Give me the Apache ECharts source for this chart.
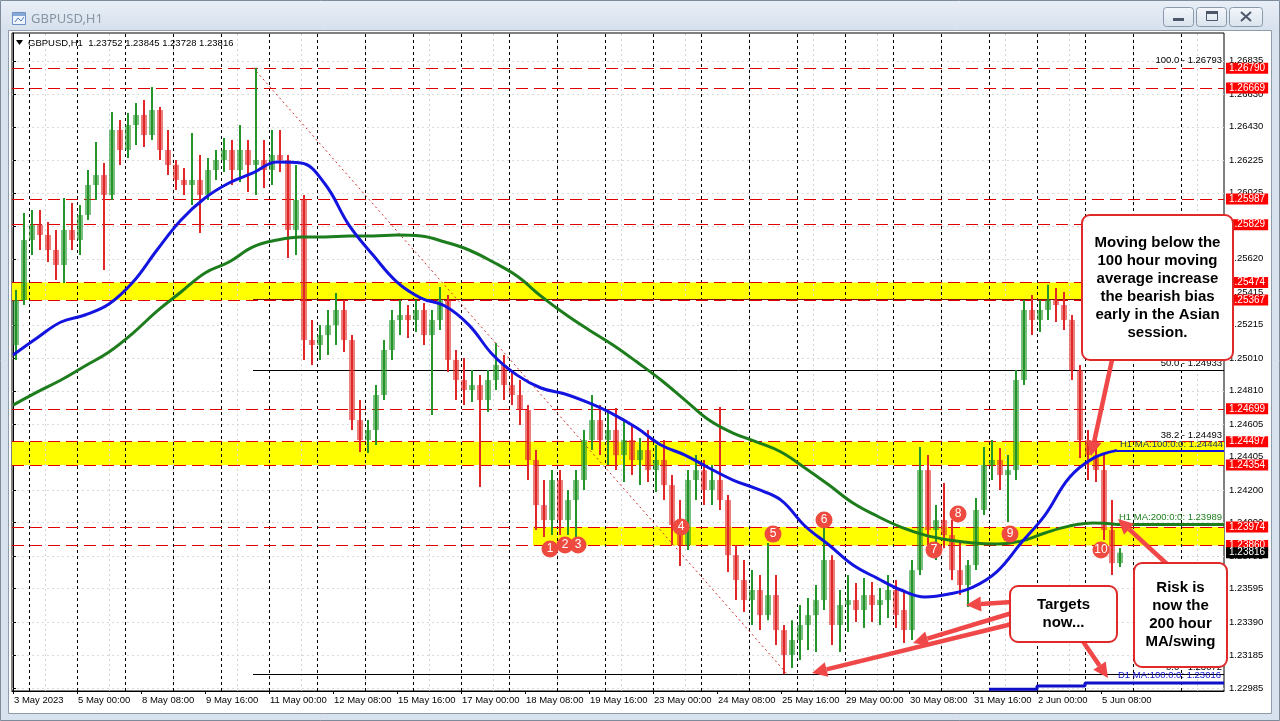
<!DOCTYPE html>
<html><head><meta charset="utf-8">
<script src="https://cdn.jsdelivr.net/npm/echarts@6/dist/echarts.min.js"></script>
<style>html,body{margin:0;padding:0;background:#d8e2ee;overflow:hidden}#c{width:1280px;height:721px}</style>
</head><body><div id="c"></div>
<script>
// ---------- DATA ----------
// 4-hour OHLC bars [open, close, low, high]; bar i covers hours 4i..4i+3 counted from 3 May 16:00
const bars = [
[1.25091,1.25367,1.24999,1.25428],[1.25367,1.25735,1.25336,1.25901],[1.25735,1.25827,1.25643,1.25919],[1.25827,1.25766,1.25674,1.25919],
[1.25766,1.25674,1.25600,1.25846],[1.25674,1.25582,1.25490,1.25797],[1.25582,1.25797,1.25471,1.25993],[1.25797,1.25735,1.25674,1.25962],
[1.25735,1.25889,1.25643,1.25950],[1.25889,1.26073,1.25858,1.26165],[1.26073,1.26134,1.25981,1.26337],[1.26134,1.26012,1.25551,1.26208],
[1.26012,1.26411,1.25981,1.26521],[1.26411,1.26288,1.26196,1.26472],[1.26288,1.26441,1.26239,1.26515],[1.26441,1.26503,1.26318,1.26576],
[1.26503,1.26380,1.26306,1.26595],[1.26380,1.26533,1.26349,1.26675],[1.26533,1.26288,1.26226,1.26552],[1.26288,1.26196,1.26134,1.26411],
[1.26196,1.26104,1.26042,1.26226],[1.26104,1.26073,1.26012,1.26177],[1.26073,1.26104,1.25950,1.26392],[1.26104,1.26012,1.25778,1.26257],
[1.26012,1.26165,1.25981,1.26239],[1.26165,1.26226,1.26104,1.26288],[1.26226,1.26288,1.26153,1.26361],[1.26288,1.26165,1.26073,1.26349],
[1.26165,1.26288,1.26091,1.26441],[1.26288,1.26196,1.26030,1.26349],[1.26196,1.26226,1.26012,1.26793],[1.26226,1.26165,1.26054,1.26349],
[1.26165,1.26257,1.26073,1.26411],[1.26257,1.26226,1.26153,1.26411],[1.26226,1.25797,1.25625,1.26257],[1.25797,1.25981,1.25643,1.26196],
[1.25981,1.25121,1.24999,1.26012],[1.25121,1.25091,1.24968,1.25244],[1.25091,1.25152,1.24999,1.25213],[1.25152,1.25213,1.25029,1.25306],
[1.25213,1.25306,1.25091,1.25410],[1.25306,1.25121,1.25048,1.25367],[1.25121,1.24630,1.24569,1.25152],[1.24630,1.24507,1.24434,1.24753],
[1.24507,1.24569,1.24428,1.24630],[1.24569,1.24784,1.24477,1.24845],[1.24784,1.25060,1.24753,1.25121],[1.25060,1.25244,1.24999,1.25306],
[1.25244,1.25275,1.25152,1.25367],[1.25275,1.25244,1.25134,1.25336],[1.25244,1.25306,1.25171,1.25367],[1.25306,1.25152,1.25091,1.25349],
[1.25152,1.25244,1.24661,1.25306],[1.25244,1.25367,1.25183,1.25447],[1.25367,1.24999,1.24925,1.25398],[1.24999,1.24876,1.24753,1.25060],
[1.24876,1.24814,1.24722,1.25011],[1.24814,1.24845,1.24741,1.24937],[1.24845,1.24753,1.24219,1.24907],[1.24753,1.24876,1.24679,1.24937],
[1.24876,1.24968,1.24814,1.25103],[1.24968,1.24845,1.24753,1.25029],[1.24845,1.24784,1.24722,1.24925],[1.24784,1.24692,1.24600,1.24876],
[1.24692,1.24385,1.24262,1.24722],[1.24385,1.24108,1.23955,1.24446],[1.24108,1.24016,1.23912,1.24262],[1.24016,1.24262,1.23924,1.24323],
[1.24262,1.24016,1.23924,1.24323],[1.24016,1.24139,1.23924,1.24201],[1.24139,1.24262,1.23912,1.24323],[1.24262,1.24507,1.24201,1.24569],
[1.24507,1.24630,1.24446,1.24784],[1.24630,1.24507,1.24415,1.24722],[1.24507,1.24569,1.24354,1.24692],[1.24569,1.24415,1.24323,1.24704],
[1.24415,1.24507,1.24250,1.24630],[1.24507,1.24385,1.24293,1.24600],[1.24385,1.24446,1.24231,1.24520],[1.24446,1.24323,1.24250,1.24569],
[1.24323,1.24385,1.24188,1.24477],[1.24385,1.24231,1.24139,1.24507],[1.24231,1.23986,1.23863,1.24293],[1.23986,1.23863,1.23734,1.24139],
[1.23863,1.24262,1.23832,1.24323],[1.24262,1.24323,1.24139,1.24415],[1.24323,1.24201,1.24108,1.24385],[1.24201,1.24262,1.24108,1.24354],
[1.24262,1.24139,1.24078,1.24710],[1.24139,1.23801,1.23697,1.24170],[1.23801,1.23648,1.23525,1.23863],[1.23648,1.23525,1.23452,1.23771],
[1.23525,1.23587,1.23372,1.23709],[1.23587,1.23433,1.23341,1.23679],[1.23433,1.23556,1.23402,1.23875],[1.23556,1.23341,1.23249,1.23679],
[1.23341,1.23188,1.23072,1.23372],[1.23188,1.23280,1.23108,1.23402],[1.23280,1.23372,1.23157,1.23495],[1.23372,1.23433,1.23218,1.23538],
[1.23433,1.23525,1.23206,1.23617],[1.23525,1.23771,1.23464,1.23967],[1.23771,1.23372,1.23249,1.23801],[1.23372,1.23495,1.23206,1.23587],
[1.23495,1.23525,1.23329,1.23679],[1.23525,1.23464,1.23390,1.23630],[1.23464,1.23556,1.23353,1.23660],[1.23556,1.23495,1.23390,1.23636],
[1.23495,1.23525,1.23372,1.23599],[1.23525,1.23587,1.23415,1.23679],[1.23587,1.23433,1.23353,1.23648],[1.23464,1.23341,1.23261,1.23587],
[1.23341,1.23709,1.23280,1.23771],[1.23709,1.24323,1.23679,1.24465],[1.24323,1.23955,1.23863,1.24415],[1.23955,1.24016,1.23771,1.24108],
[1.24016,1.23924,1.23844,1.24244],[1.23924,1.23709,1.23648,1.24016],[1.23709,1.23617,1.23556,1.23894],[1.23617,1.23740,1.23482,1.23771],
[1.23740,1.24078,1.23709,1.24151],[1.24078,1.24354,1.24047,1.24465],[1.24354,1.24385,1.24262,1.24507],[1.24385,1.24293,1.24201,1.24458],
[1.24293,1.24323,1.24004,1.24415],[1.24323,1.24876,1.24262,1.24937],[1.24876,1.25306,1.24845,1.25367],[1.25306,1.25244,1.25152,1.25398],
[1.25244,1.25306,1.25171,1.25367],[1.25306,1.25367,1.25244,1.25460],[1.25367,1.25336,1.25232,1.25441],[1.25336,1.25244,1.25183,1.25416],
[1.25244,1.24937,1.24876,1.25275],[1.24937,1.24507,1.24397,1.24968],[1.24507,1.24415,1.24262,1.24569],[1.24415,1.24323,1.24250,1.24507],
[1.24323,1.23955,1.23894,1.24415],[1.23955,1.23752,1.23679,1.24139],[1.23752,1.23816,1.23728,1.23845]
];
// H1 moving averages sampled every 12 hours
const ma100H1 = [1.25029,1.25134,1.25232,1.25275,1.25342,1.25477,1.25674,1.25858,1.25993,1.26085,1.26147,1.26214,1.26208,1.26079,1.25827,1.25643,1.25477,1.25379,1.25330,1.25213,1.25029,1.24906,1.24827,1.24790,1.24735,1.24667,1.24581,1.24477,1.24415,1.24336,1.24262,1.24207,1.24139,1.23980,1.23863,1.23740,1.23660,1.23587,1.23544,1.23562,1.23605,1.23700,1.23875,1.24047,1.24275,1.24395,1.24444];
const ma200H1 = [1.24722,1.24802,1.24876,1.24962,1.25048,1.25164,1.25299,1.25416,1.25533,1.25600,1.25693,1.25735,1.25754,1.25754,1.25760,1.25760,1.25766,1.25760,1.25723,1.25674,1.25600,1.25514,1.25391,1.25281,1.25183,1.25091,1.24986,1.24876,1.24753,1.24630,1.24550,1.24495,1.24434,1.24336,1.24231,1.24121,1.24041,1.23973,1.23924,1.23894,1.23875,1.23869,1.23887,1.23937,1.23979,1.23998,1.23989];
// D1 MA(100): [hour, value]
const ma100D1 = [[488,1.22978],[512,1.22997],[536,1.23016],[605.5,1.23016]];
// X axis ticks (hour index) and labels
const xTickHours = [0,32,64,96,128,160,192,224,256,288,320,352,384,416,448,480,512,544];
const xTickLabels = ['3 May 2023','5 May 00:00','8 May 08:00','9 May 16:00','11 May 00:00','12 May 08:00','15 May 16:00','17 May 00:00','18 May 08:00','19 May 16:00','23 May 00:00','24 May 08:00','25 May 16:00','29 May 00:00','30 May 08:00','31 May 16:00','2 Jun 00:00','5 Jun 08:00'];
const daySeparatorHours = [8,32,56,80,104,128,152,176,200,224,248,272,296,320,344,368,392,416,440,464,488,512,536,560,584];
const gridHours = [16,48,80,112,144,176,208,240,272,304,336,368,400,432,464,496,528,560,592];
// Y axis tick labels
const yTickValues = [1.22985,1.23185,1.23390,1.23595,1.23795,1.24000,1.24200,1.24405,1.24605,1.24810,1.25010,1.25215,1.25415,1.25620,1.25820,1.26025,1.26225,1.26430,1.26630,1.26835];
// Horizontal red levels
const redLevels = [1.26790,1.26669,1.25987,1.25829,1.25474,1.25367,1.24699,1.24497,1.24354,1.23974,1.23860];
// Yellow zones [upper, lower, fromHour]
const yellowZones = [[1.25474,1.25367,-0.5],[1.24497,1.24354,-0.5],[1.23974,1.23860,260]];
const lastPrice = 1.23816;
// Fibonacci retracement (from the 10 May high to the 25 May low)
const fibHigh = [120, 1.26793];
const fibLow = [387, 1.23072];
const fibLevelNames = ['100.0','61.8','50.0','38.2','0.0'];
const fibLevelPrices = [1.26793,1.25372,1.24933,1.24493,1.23072];
// numbered touches: [hour, price, number]
const touches = [[268.5,1.23838,1],[276,1.23863,2],[282.5,1.23863,3],[334,1.23973,4],[380,1.23930,5],[405.5,1.24016,6],[460.5,1.23832,7],[472.5,1.24053,8],[498.5,1.23930,9],[544,1.23832,10]];
const headerText = 'GBPUSD,H1  1.23752 1.23845 1.23728 1.23816';

// ---------- CHART ----------
const FONT = '"Liberation Sans", Arial, sans-serif';
const UP = '#23952a', DOWN = '#e02828';
const Y_MIN = 1.22967, Y_MAX = 1.27006, X_MIN = -0.5, X_MAX = 605.5;
const chart = echarts.init(document.getElementById('c'), null, {renderer: 'canvas'});

function renderBar(params, api) {
  const t = api.value(0), o = api.value(1), c = api.value(2), l = api.value(3), h = api.value(4);
  const pH = api.coord([t, h]), pL = api.coord([t, l]), pO = api.coord([t, o]), pC = api.coord([t, c]);
  const col = c >= o ? UP : DOWN;
  const x = Math.round(pH[0]);
  return {type: 'group', children: [
    {type: 'rect', shape: {x: x - 1, y: pH[1], width: 2, height: Math.max(1, pL[1] - pH[1])}, style: {fill: col}},
    {type: 'rect', shape: {x: x - 3, y: Math.min(pO[1], pC[1]), width: 6, height: Math.max(1, Math.abs(pO[1] - pC[1]))}, style: {fill: col, opacity: 0.6}}
  ]};
}

function arrow(x1, y1, x2, y2) {
  const a = Math.atan2(y2 - y1, x2 - x1), L = 15, W = 7.5;
  const bx = x2 - L * Math.cos(a), by = y2 - L * Math.sin(a);
  const col = '#f04848';
  return [
    {type: 'line', z: 90, shape: {x1: x1, y1: y1, x2: bx, y2: by}, style: {stroke: col, lineWidth: 4.5}},
    {type: 'polygon', z: 90, shape: {points: [[x2, y2], [bx + W * Math.sin(a), by - W * Math.cos(a)], [bx - W * Math.sin(a), by + W * Math.cos(a)]]}, style: {fill: col}}
  ];
}
function box(x, y, w, h, text) {
  return [
    {type: 'rect', z: 100, shape: {x: x, y: y, width: w, height: h, r: 8}, style: {fill: '#fff', stroke: '#e02a2a', lineWidth: 2}},
    {type: 'text', z: 101, x: x + w / 2, y: y + h / 2, style: {text: text, font: 'bold 15px ' + FONT, fill: '#000', align: 'center', verticalAlign: 'middle', lineHeight: 18}}
  ];
}

const graphics = [
  {type: 'rect', z: -100, shape: {x: 0, y: 0, width: 1280, height: 31}, style: {fill: {type: 'linear', x: 0, y: 0, x2: 0, y2: 1, colorStops: [{offset: 0, color: '#e9eff7'}, {offset: 1, color: '#d6e0ec'}]}}},
  {type: 'rect', z: -100, shape: {x: 0.5, y: 0.5, width: 1279, height: 720}, style: {fill: 'none', stroke: '#7d8b9b'}},
  {type: 'rect', z: -99, shape: {x: 8.5, y: 30.5, width: 1263, height: 683}, style: {fill: '#fff', stroke: '#8f9cab'}},
  {type: 'rect', z: -98, shape: {x: 12.5, y: 12.5, width: 13, height: 12}, style: {fill: '#eef4fb', stroke: '#6d90c2'}},
  {type: 'rect', z: -98, shape: {x: 13, y: 13, width: 12, height: 3}, style: {fill: '#86a9d8'}},
  {type: 'polyline', z: -98, shape: {points: [[15, 22], [18, 18], [21, 21], [24, 17]]}, style: {stroke: '#4f7bb8', lineWidth: 1}},
  {type: 'text', z: -98, x: 31, y: 19, style: {text: 'GBPUSD,H1', font: '13px "Noto Sans", sans-serif', fill: '#8794a3', verticalAlign: 'middle'}},
  {type: 'rect', z: -98, shape: {x: 1163.5, y: 7.5, width: 30, height: 19, r: 3}, style: {fill: {type: 'linear', x: 0, y: 0, x2: 0, y2: 1, colorStops: [{offset: 0, color: '#f4f7fb'}, {offset: 1, color: '#d9e2ed'}]}, stroke: '#8a98ab'}},
  {type: 'rect', z: -98, shape: {x: 1196.5, y: 7.5, width: 30, height: 19, r: 3}, style: {fill: {type: 'linear', x: 0, y: 0, x2: 0, y2: 1, colorStops: [{offset: 0, color: '#f4f7fb'}, {offset: 1, color: '#d9e2ed'}]}, stroke: '#8a98ab'}},
  {type: 'rect', z: -98, shape: {x: 1229.5, y: 7.5, width: 33, height: 19, r: 3}, style: {fill: {type: 'linear', x: 0, y: 0, x2: 0, y2: 1, colorStops: [{offset: 0, color: '#f4f7fb'}, {offset: 1, color: '#d9e2ed'}]}, stroke: '#8a98ab'}},
  {type: 'rect', z: -97, shape: {x: 1173, y: 18, width: 11, height: 3}, style: {fill: '#4c586a'}},
  {type: 'rect', z: -97, shape: {x: 1206.5, y: 11.5, width: 11, height: 9}, style: {fill: 'none', stroke: '#4c586a'}},
  {type: 'rect', z: -97, shape: {x: 1206, y: 11, width: 12, height: 3}, style: {fill: '#4c586a'}},
  {type: 'line', z: -97, shape: {x1: 1241, y1: 12, x2: 1251, y2: 21}, style: {stroke: '#4c586a', lineWidth: 2}},
  {type: 'line', z: -97, shape: {x1: 1251, y1: 12, x2: 1241, y2: 21}, style: {stroke: '#4c586a', lineWidth: 2}},
  {type: 'polygon', z: 20, shape: {points: [[16, 40], [23, 40], [19.5, 45]]}, style: {fill: '#000'}},
  {type: 'text', z: 20, x: 28, y: 43, style: {text: headerText, font: '9.5px ' + FONT, fill: '#000', verticalAlign: 'middle'}},
  ...arrow(1112, 360, 1091, 456),
  ...arrow(1012, 602, 966, 605),
  ...arrow(1012, 613, 913, 643),
  ...arrow(1012, 624, 812, 673),
  ...arrow(1082, 640, 1108, 678),
  ...arrow(1168, 565, 1118, 519),
  ...box(1082, 215, 151, 145, 'Moving below the\n100 hour moving\naverage increase\nthe bearish bias\nearly in the Asian\nsession.'),
  ...box(1010, 586, 107, 56, 'Targets\nnow...'),
  ...box(1134, 563, 93, 104, 'Risk is\nnow the\n200 hour\nMA/swing')
];

const hourOfMA = i => i * 12;
const fibStyle = {'100.0': null, '61.8': '#7a1414', '50.0': '#000', '38.2': null, '0.0': '#000'};
const fibLines = fibLevelNames.map((n, i) => [
  {coord: [fibHigh[0], fibLevelPrices[i]], lineStyle: {color: fibStyle[n] || 'rgba(0,0,0,0)', width: 1, type: 'solid'},
   label: {show: n !== '61.8', position: 'insideEndTop', formatter: n + ' - ' + fibLevelPrices[i].toFixed(5), color: '#000', fontSize: 9.5, fontFamily: FONT, distance: 2}},
  {coord: [X_MAX, fibLevelPrices[i]]}
]);
const levelLabel = (bg) => ({show: true, position: 'end', distance: 2, color: '#fff', backgroundColor: bg, padding: [1, 3, 0, 3], fontSize: 10, fontFamily: FONT});
const hLine = (v, lineStyle, label) => [{coord: [X_MIN, v], lineStyle: lineStyle, label: label}, {coord: [X_MAX, v]}];
const vLine = (h, lineStyle) => [{coord: [h, Y_MIN], lineStyle: lineStyle, label: {show: false}}, {coord: [h, Y_MAX]}];

const option = {
  animation: false,
  backgroundColor: '#d8e2ee',
  textStyle: {fontFamily: FONT},
  graphic: {elements: graphics},
  grid: {left: 12, right: 56, top: 33, bottom: 30, show: true, borderColor: '#000', borderWidth: 1, backgroundColor: 'rgba(0,0,0,0)'},
  xAxis: {
    type: 'value', min: X_MIN, max: X_MAX,
    axisLine: {show: true, onZero: false, lineStyle: {color: '#000'}},
    axisTick: {show: true, length: 3, customValues: xTickHours, lineStyle: {color: '#000'}},
    axisLabel: {customValues: xTickHours, formatter: v => xTickLabels[xTickHours.indexOf(v)] || '', align: 'left', color: '#000', fontSize: 9.5, fontFamily: FONT, margin: 4, padding: [0, 0, 0, 1]},
    splitLine: {show: false}
  },
  yAxis: {
    type: 'value', position: 'right', min: Y_MIN, max: Y_MAX,
    axisLine: {show: true, lineStyle: {color: '#000'}},
    axisTick: {show: true, inside: false, length: 3, customValues: yTickValues, lineStyle: {color: '#000'}},
    axisLabel: {customValues: yTickValues, formatter: v => v.toFixed(5), color: '#000', fontSize: 9.5, fontFamily: FONT, margin: 5},
    splitLine: {show: true, lineStyle: {color: '#dadada', type: [2, 3], width: 1}}
  },
  series: [
    { // background zones, separators, levels
      type: 'line', data: [], z: 1, silent: true,
      markArea: {silent: true, z: 1, itemStyle: {color: '#ffff00', opacity: 1},
        data: yellowZones.map(zn => [{coord: [zn[2], zn[0]]}, {coord: [X_MAX, zn[1]]}])},
      markLine: {silent: true, z: 2, symbol: ['none', 'none'], animation: false,
        data: [
          ...gridHours.map(h => vLine(h, {color: '#d6d6d6', type: [2, 3], width: 1})),
          ...daySeparatorHours.map(h => vLine(h, {color: '#000', type: [3, 3], width: 1})),
          ...redLevels.map(v => hLine(v, {color: '#e00000', type: [12, 6], width: 1}, Object.assign(levelLabel('#ff0000'), {formatter: v.toFixed(5)}))),
          hLine(lastPrice, {color: 'rgba(0,0,0,0)', width: 0}, Object.assign(levelLabel('#000'), {formatter: lastPrice.toFixed(5)}))
        ]}
    },
    { // fibonacci
      type: 'line', data: [], z: 2, silent: true,
      markLine: {silent: true, z: 2, symbol: ['none', 'none'], animation: false,
        data: [
          [{coord: fibHigh, lineStyle: {color: '#d43030', type: [2, 3], width: 1}, label: {show: false}}, {coord: fibLow}],
          ...fibLines
        ]}
    },
    {
      type: 'custom', name: 'GBPUSD', renderItem: renderBar, z: 3, clip: true,
      encode: {x: 0, y: [1, 2, 3, 4]},
      data: bars.map((b, i) => [4 * i + 1.5, b[0], b[1], b[2], b[3]])
    },
    {
      type: 'line', name: 'H1 MA 200', z: 4, smooth: 0.4, showSymbol: false, symbol: 'none',
      lineStyle: {color: '#1d7d1d', width: 3}, data: ma200H1.map((v, i) => [hourOfMA(i), v]),
      markLine: {silent: true, z: 4, symbol: ['none', 'none'], data: [[
        {coord: [hourOfMA(ma200H1.length - 1), ma200H1[ma200H1.length - 1]], lineStyle: {color: '#1d7d1d', width: 3, type: 'solid'},
         label: {show: true, position: 'insideEndTop', distance: 2, formatter: 'H1 MA:200:0:0: ' + ma200H1[ma200H1.length - 1].toFixed(5), color: '#1d7d1d', fontSize: 9.5, fontFamily: FONT}},
        {coord: [X_MAX, ma200H1[ma200H1.length - 1]]}]]}
    },
    {
      type: 'line', name: 'H1 MA 100', z: 5, smooth: 0.4, showSymbol: false, symbol: 'none',
      lineStyle: {color: '#1414e0', width: 3}, data: ma100H1.map((v, i) => [hourOfMA(i), v]),
      markLine: {silent: true, z: 5, symbol: ['none', 'none'], data: [[
        {coord: [hourOfMA(ma100H1.length - 1), ma100H1[ma100H1.length - 1]], lineStyle: {color: '#1414e0', width: 2, type: 'solid'},
         label: {show: true, position: 'insideEndTop', distance: 1, formatter: 'H1 MA:100:0:0: ' + ma100H1[ma100H1.length - 1].toFixed(5), color: '#23306a', fontSize: 9.5, fontFamily: FONT}},
        {coord: [X_MAX, ma100H1[ma100H1.length - 1]]}]]}
    },
    {
      type: 'line', name: 'D1 MA 100', z: 5, step: 'end', showSymbol: false, symbol: 'none',
      lineStyle: {color: '#1010c8', width: 3}, data: ma100D1,
      markLine: {silent: true, z: 5, symbol: ['none', 'none'], data: [[
        {coord: [500, ma100D1[ma100D1.length - 1][1]], lineStyle: {color: 'rgba(0,0,0,0)', width: 0},
         label: {show: true, position: 'insideEndTop', distance: 3, formatter: 'D1 MA:100:0:0: ' + ma100D1[ma100D1.length - 1][1].toFixed(5), color: '#1414d0', fontSize: 9.5, fontFamily: FONT}},
        {coord: [X_MAX, ma100D1[ma100D1.length - 1][1]]}]]}
    },
    {
      type: 'scatter', name: 'touches', z: 8, symbolSize: 17, silent: true,
      itemStyle: {color: '#ef4a3f', opacity: 1},
      label: {show: true, position: 'inside', formatter: p => String(p.data[2]), color: '#fff', fontSize: 12, fontFamily: FONT},
      data: touches
    }
  ]
};
chart.setOption(option);
</script>
</body></html>
